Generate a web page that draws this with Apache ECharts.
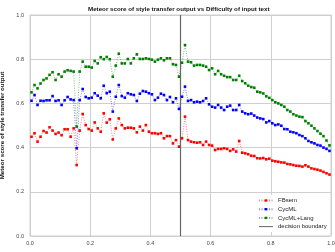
<!DOCTYPE html>
<html>
<head>
<meta charset="utf-8">
<script src="https://cdn.jsdelivr.net/npm/echarts@6/dist/echarts.min.js"></script>
<style>
html, body { margin: 0; padding: 0; background: #fff; }
#main { width: 335px; height: 252px; }
</style>
</head>
<body>
<div id="main"></div>
<script>
// author classifier score (bin centres)
const authorScore = [
  0.005, 0.015, 0.025, 0.035, 0.045, 0.055, 0.065, 0.075, 0.085, 0.095,
  0.105, 0.115, 0.125, 0.135, 0.145, 0.155, 0.165, 0.175, 0.185, 0.195,
  0.205, 0.215, 0.225, 0.235, 0.245, 0.255, 0.265, 0.275, 0.285, 0.295,
  0.305, 0.315, 0.325, 0.335, 0.345, 0.355, 0.365, 0.375, 0.385, 0.395,
  0.405, 0.415, 0.425, 0.435, 0.445, 0.455, 0.465, 0.475, 0.485, 0.495,
  0.505, 0.515, 0.525, 0.535, 0.545, 0.555, 0.565, 0.575, 0.585, 0.595,
  0.605, 0.615, 0.625, 0.635, 0.645, 0.655, 0.665, 0.675, 0.685, 0.695,
  0.705, 0.715, 0.725, 0.735, 0.745, 0.755, 0.765, 0.775, 0.785, 0.795,
  0.805, 0.815, 0.825, 0.835, 0.845, 0.855, 0.865, 0.875, 0.885, 0.895,
  0.905, 0.915, 0.925, 0.935, 0.945, 0.955, 0.965, 0.975, 0.985, 0.995
];

const fbsem = [
  0.449, 0.465, 0.427, 0.449, 0.475, 0.468, 0.492, 0.477, 0.462, 0.468,
  0.456, 0.483, 0.483, 0.449, 0.487, 0.321, 0.477, 0.552, 0.502, 0.484,
  0.477, 0.514, 0.487, 0.472, 0.555, 0.513, 0.528, 0.437, 0.487, 0.532,
  0.502, 0.487, 0.490, 0.490, 0.487, 0.469, 0.495, 0.477, 0.502, 0.472,
  0.465, 0.465, 0.462, 0.465, 0.442, 0.452, 0.452, 0.419, 0.434, 0.404,
  0.442, 0.540, 0.434, 0.427, 0.424, 0.422, 0.424, 0.412, 0.427, 0.412,
  0.409, 0.389, 0.394, 0.394, 0.397, 0.394, 0.385, 0.392, 0.382, 0.430,
  0.377, 0.374, 0.370, 0.363, 0.362, 0.352, 0.351, 0.353, 0.347, 0.350,
  0.341, 0.338, 0.336, 0.333, 0.332, 0.326, 0.324, 0.321, 0.318, 0.317,
  0.314, 0.320, 0.314, 0.306, 0.303, 0.300, 0.296, 0.290, 0.284, 0.278
];

const cycml = [
  0.612, 0.638, 0.593, 0.612, 0.611, 0.614, 0.614, 0.633, 0.611, 0.614,
  0.593, 0.614, 0.629, 0.618, 0.615, 0.397, 0.615, 0.665, 0.629, 0.623,
  0.626, 0.646, 0.635, 0.623, 0.680, 0.646, 0.653, 0.563, 0.630, 0.683,
  0.633, 0.626, 0.646, 0.641, 0.638, 0.611, 0.644, 0.656, 0.653, 0.646,
  0.641, 0.615, 0.626, 0.644, 0.638, 0.615, 0.629, 0.605, 0.623, 0.575,
  0.630, 0.676, 0.611, 0.615, 0.605, 0.608, 0.605, 0.611, 0.623, 0.596,
  0.585, 0.581, 0.593, 0.581, 0.570, 0.585, 0.590, 0.570, 0.570, 0.593,
  0.563, 0.555, 0.551, 0.554, 0.545, 0.536, 0.532, 0.529, 0.514, 0.520,
  0.510, 0.502, 0.505, 0.499, 0.484, 0.483, 0.472, 0.469, 0.465, 0.457,
  0.452, 0.442, 0.430, 0.424, 0.419, 0.412, 0.409, 0.400, 0.394, 0.385
];

const cycmlLang = [
  0.650, 0.683, 0.668, 0.690, 0.706, 0.713, 0.729, 0.741, 0.706, 0.732,
  0.721, 0.744, 0.750, 0.747, 0.744, 0.495, 0.744, 0.789, 0.766, 0.766,
  0.762, 0.792, 0.781, 0.809, 0.800, 0.810, 0.800, 0.721, 0.771, 0.825,
  0.781, 0.781, 0.801, 0.781, 0.804, 0.822, 0.801, 0.801, 0.804, 0.801,
  0.798, 0.789, 0.798, 0.804, 0.795, 0.804, 0.804, 0.777, 0.774, 0.721,
  0.784, 0.864, 0.789, 0.786, 0.771, 0.774, 0.774, 0.771, 0.766, 0.751,
  0.759, 0.732, 0.747, 0.732, 0.725, 0.719, 0.719, 0.706, 0.706, 0.725,
  0.701, 0.691, 0.680, 0.674, 0.671, 0.653, 0.650, 0.645, 0.632, 0.625,
  0.615, 0.605, 0.600, 0.593, 0.585, 0.570, 0.563, 0.551, 0.545, 0.540,
  0.538, 0.520, 0.510, 0.499, 0.487, 0.475, 0.463, 0.452, 0.432, 0.410
];

const decisionBoundary = 0.5;

const font = 'Liberation Sans';

function pairs(ys) {
  return ys.map((y, i) => [authorScore[i], y]);
}

// dotted line + small square markers, like matplotlib ':s'
function dottedSeries(name, color, ys) {
  return {
    name: name,
    type: 'line',
    data: pairs(ys),
    symbol: 'rect',
    symbolSize: 2.6,
    showSymbol: true,
    showAllSymbol: true,
    itemStyle: { color: color, borderWidth: 0 },
    lineStyle: { color: color, width: 1, type: [1, 1.5], opacity: 0.5 },
    animation: false
  };
}

const chart = echarts.init(document.getElementById('main'));

const option = {
  backgroundColor: '#fff',
  title: {
    text: 'Meteor score of style transfer output vs Difficulty of input text',
    left: 88,
    top: 6,
    padding: 0,
    textStyle: { fontFamily: font, fontSize: 6.2, fontWeight: 'bold', color: '#111' }
  },
  grid: {
    left: 30,
    right: 4,
    top: 15,
    bottom: 16,
    outerBoundsMode: 'none',
    containLabel: false,
    show: true,
    borderColor: '#cfcfcf',
    borderWidth: 1
  },
  legend: {
    orient: 'vertical',
    left: 255,
    top: 195,
    itemWidth: 14,
    itemHeight: 3,
    itemGap: 1.7,
    padding: [2, 3],
    backgroundColor: '#fff',
    textStyle: { fontFamily: font, fontSize: 6, lineHeight: 7, color: '#222' },
    data: [
      'FBsem',
      'CycML',
      'CycML+Lang',
      { name: 'decision boundary', icon: 'path://M0,0 L14,0 L14,1 L0,1 Z', itemStyle: { color: '#666' } }
    ]
  },
  xAxis: {
    type: 'value',
    min: 0,
    max: 1,
    interval: 0.2,
    name: 'Author classifier score of input sentence',
    nameLocation: 'middle',
    nameGap: 10,
    nameTextStyle: { fontFamily: font, fontSize: 6.2, fontWeight: 'bold', color: '#111' },
    axisLine: { show: false },
    axisTick: { show: false },
    axisLabel: {
      fontFamily: font, fontSize: 5.5, color: '#444', margin: 4,
      formatter: v => v.toFixed(1)
    },
    splitLine: { show: true, lineStyle: { color: '#cfcfcf', width: 1 } }
  },
  yAxis: {
    type: 'value',
    min: 0,
    max: 1,
    interval: 0.2,
    name: 'Meteor score of style transfer output',
    nameLocation: 'middle',
    nameGap: 14,
    nameTextStyle: { fontFamily: font, fontSize: 6.2, fontWeight: 'bold', color: '#111' },
    axisLine: { show: false },
    axisTick: { show: false },
    axisLabel: {
      fontFamily: font, fontSize: 5.5, color: '#444', margin: 6,
      formatter: v => v.toFixed(1)
    },
    splitLine: { show: true, lineStyle: { color: '#cfcfcf', width: 1 } }
  },
  series: [
    dottedSeries('FBsem', '#ff0000', fbsem),
    dottedSeries('CycML', '#0000ff', cycml),
    dottedSeries('CycML+Lang', '#008000', cycmlLang),
    {
      name: 'decision boundary',
      type: 'line',
      data: [[decisionBoundary, 0], [decisionBoundary, 1]],
      symbol: 'none',
      itemStyle: { color: '#666' },
      lineStyle: { color: '#666', width: 1.2 },
      animation: false
    }
  ]
};

chart.setOption(option);
</script>
</body>
</html>
